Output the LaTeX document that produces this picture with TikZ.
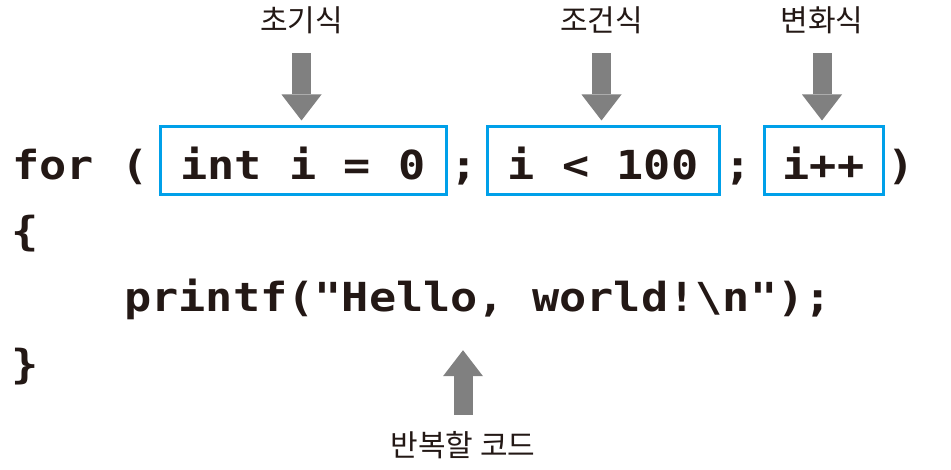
\documentclass[tikz,border=0pt]{standalone}
\usepackage{fontspec}
\usetikzlibrary{arrows.meta}
\newfontfamily\codefont{DejaVu Sans Mono}[FakeStretch=1.13]
\newfontfamily\hangul{Noto Sans CJK KR}
\definecolor{codeink}{RGB}{35,24,21}
\definecolor{boxblue}{RGB}{0,160,233}
\definecolor{arrowgray}{RGB}{128,128,128}
\begin{document}
\begin{tikzpicture}[x=1pt, y=-1pt, line join=miter,
  code/.style={font=\codefont\bfseries\fontsize{40}{48}\selectfont, text=codeink, inner sep=0pt, text height=30pt, text depth=10pt},
  codebox/.style={code, draw=boxblue, line width=3pt, minimum height=68pt, text height=39pt, text depth=0pt, anchor=base west},
  lbl/.style={font=\hangul\fontsize{30}{36}\selectfont, text=codeink, inner sep=0pt, text height=23pt, text depth=5pt, anchor=base},
  bigarrow/.style={draw=arrowgray, line width=19pt, -{Triangle[width=40pt,length=26pt,line width=0pt]}}]
\useasboundingbox (0,0) rectangle (951,470);
% first line of the loop
\node[code, anchor=base west] (for) at (12,180) {for (};
\node[codebox, minimum width=286pt] (init) at (158.5,180) {int i = 0};
\node[code, anchor=base] (semi1) at (464,180) {;};
\node[codebox, minimum width=232pt] (cond) at (485.5,180) {i < 100};
\node[code, anchor=base] (semi2) at (738,180) {;};
\node[codebox, minimum width=119pt] (incr) at (762.5,180) {i++};
\node[code, anchor=base] (close) at (901,180) {)};
% body
\node[code, anchor=base] (lbrace) at (25,246) {\{};
\node[code, anchor=base west] (body) at (124,312) {printf("Hello, world!\textbackslash n");};
\node[code, anchor=base] (rbrace) at (25,378) {\}};
% labels
\node[lbl] (init-lbl) at (301.5,32) {초기식};
\node[lbl] (cond-lbl) at (601.5,32) {조건식};
\node[lbl] (incr-lbl) at (822,32) {변화식};
\node[lbl] (body-lbl) at (463,456) {반복할 코드};
\foreach \n in {init,cond,incr}
  \draw[bigarrow, shorten <=16pt, shorten >=4.5pt] (\n-lbl.south) -- (\n-lbl.south |- \n.north);
\draw[bigarrow, shorten <=18pt, shorten >=28pt] (body-lbl.north) -- (body-lbl.north |- body.south);
\end{tikzpicture}
\end{document}
